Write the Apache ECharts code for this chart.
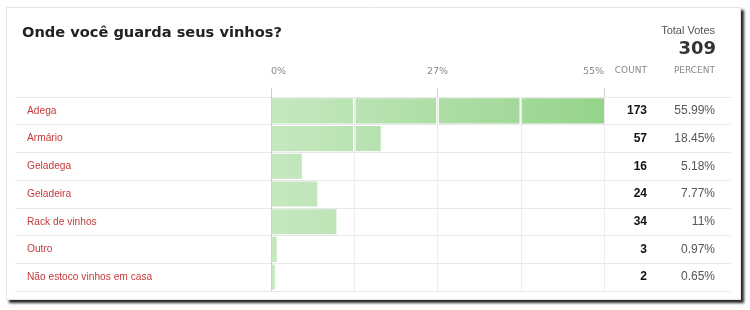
<!DOCTYPE html>
<html><head><meta charset="utf-8">
<script src="https://cdn.jsdelivr.net/npm/echarts@6/dist/echarts.min.js"></script>
<style>html,body{margin:0;padding:0;background:#fff}#c{width:750px;height:310px}</style>
</head><body><div id="c"></div>
<script>
const titleText = 'Onde você guarda seus vinhos?';
const categories = ['Adega','Armário','Geladega','Geladeira','Rack de vinhos','Outro','Não estoco vinhos em casa'];
const counts = [173, 57, 16, 24, 34, 3, 2];
const percents = [55.99, 18.45, 5.18, 7.77, 11, 0.97, 0.65];
const tickLabels = ['0%', '27%', '55%'];
const total = counts.reduce((a, b) => a + b, 0);
const maxPct = Math.max(...percents);

const chart = echarts.init(document.getElementById('c'), null, {renderer: 'canvas'});
const lblFont = 'Liberation Sans';

function renderBar(params, api) {
  const v = api.value(0), c = api.value(1);
  const p0 = api.coord([0, c]);
  const pEnd = api.coord([v, c]);
  const pMax = api.coord([maxPct, c]);
  const h = api.size([0, 1])[1] - 2.6;
  const y = p0[1] - h / 2;
  const bounds = [];
  for (let q = 1; q < 4; q++) bounds.push(api.coord([q * maxPct / 4, c])[0]);
  const fill = new echarts.graphic.LinearGradient(p0[0], 0, pMax[0], 0,
    [{offset: 0, color: '#c6e8c0'}, {offset: 1, color: '#95d48b'}], true);
  const children = [];
  let s = p0[0] + 1;
  const edges = bounds.concat([Infinity]);
  for (let k = 0; k < edges.length; k++) {
    const segEnd = Math.min(pEnd[0], edges[k] - 1.3);
    if (segEnd > s) {
      children.push({type: 'rect', shape: {x: s, y: y, width: segEnd - s, height: h}, style: {fill: fill}});
    }
    if (pEnd[0] <= edges[k]) break;
    s = edges[k] + 1.3;
  }
  return {type: 'group', children: children};
}

const option = {
  animation: false,
  backgroundColor: '#ffffff',
  title: {
    text: titleText,
    left: 22, top: 26, padding: 0,
    textStyle: {fontFamily: 'DejaVu Sans', fontWeight: 'bold', fontSize: 14.6, color: '#222'}
  },
  graphic: [
    {type: 'rect', z: -101, shape: {x: 6, y: 7, width: 735, height: 293},
     style: {fill: '#fff', shadowColor: 'rgba(0,0,0,0.85)', shadowBlur: 2.5, shadowOffsetX: 3, shadowOffsetY: 3}},
    {type: 'rect', z: -100, shape: {x: 6.5, y: 7.5, width: 734, height: 292},
     style: {fill: 'none', stroke: '#e4e4e4', lineWidth: 1}},
    {type: 'text', style: {text: 'Total Votes', x: 715, y: 31, align: 'right', verticalAlign: 'middle', font: '11px "Liberation Sans"', fill: '#555'}},
    {type: 'text', style: {text: String(total), x: 716, y: 49, align: 'right', verticalAlign: 'middle', font: 'bold 18px "DejaVu Sans"', fill: '#333'}},
    {type: 'text', style: {text: 'COUNT', x: 647, y: 71, align: 'right', verticalAlign: 'middle', font: '9px "DejaVu Sans"', fill: '#888'}},
    {type: 'text', style: {text: 'PERCENT', x: 715, y: 71, align: 'right', verticalAlign: 'middle', font: '9px "DejaVu Sans"', fill: '#888'}}
  ],
  grid: [
    {left: 15, right: 19, top: 97, bottom: 19},
    {left: 271, right: 146, top: 97, bottom: 19}
  ],
  xAxis: [
    {gridIndex: 0, type: 'value', show: false},
    {gridIndex: 1, type: 'value', min: 0, max: maxPct, interval: maxPct / 4, position: 'top',
     axisLine: {show: false}, axisTick: {show: false}, axisLabel: {show: false},
     splitLine: {show: true, lineStyle: {color: '#ececec', width: 1}}},
    {gridIndex: 1, type: 'value', min: 0, max: maxPct, interval: maxPct / 2, position: 'top',
     axisLine: {show: false}, splitLine: {show: false},
     axisTick: {show: true, length: 9, lineStyle: {color: '#cfcfcf'}},
     axisLabel: {margin: 20, color: '#888', fontSize: 9.5, fontFamily: 'DejaVu Sans',
       alignMinLabel: 'left', alignMaxLabel: 'right',
       formatter: (v, i) => tickLabels[i] || ''}}
  ],
  yAxis: [
    {gridIndex: 0, type: 'category', data: categories, inverse: true,
     axisLine: {show: false}, axisTick: {show: false},
     splitLine: {show: true, lineStyle: {color: '#e8e8e8'}},
     axisLabel: {inside: true, margin: 12, color: '#c43a3a', fontSize: 10.2, fontFamily: lblFont}},
    {gridIndex: 0, type: 'category', data: categories, inverse: true, position: 'right',
     axisLine: {show: false}, axisTick: {show: false}, splitLine: {show: false},
     axisLabel: {inside: true, margin: 16, color: '#555', fontSize: 12, fontFamily: lblFont,
       formatter: (v, i) => percents[i] + '%'}},
    {gridIndex: 1, type: 'category', data: categories, inverse: true,
     axisLine: {show: true, lineStyle: {color: '#cfcfcf'}}, axisTick: {show: false},
     axisLabel: {show: false}, splitLine: {show: false}},
    {gridIndex: 1, type: 'category', data: categories, inverse: true, position: 'right',
     axisLine: {show: false}, axisTick: {show: false}, splitLine: {show: false},
     axisLabel: {margin: 43, align: 'right', color: '#111', fontSize: 12, fontWeight: 'bold', fontFamily: lblFont,
       formatter: (v, i) => String(counts[i])}}
  ],
  series: [{
    type: 'custom',
    xAxisIndex: 1, yAxisIndex: 2,
    renderItem: renderBar,
    encode: {x: 0, y: 1},
    data: percents.map((p, i) => [p, i])
  }]
};
chart.setOption(option);
</script></body></html>
